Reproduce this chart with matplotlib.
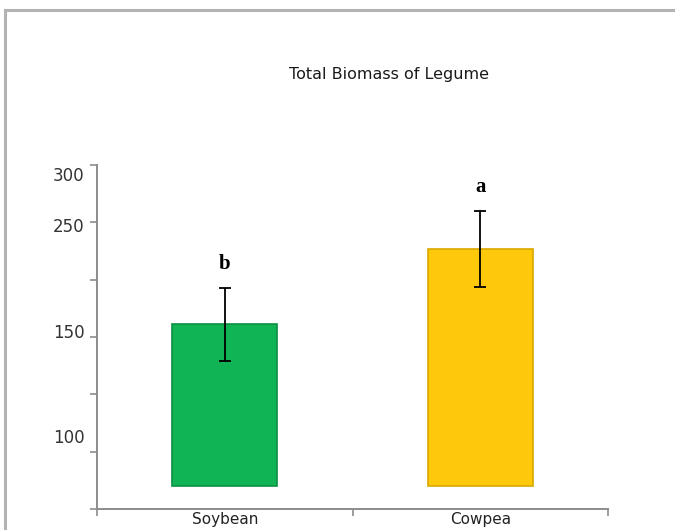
import matplotlib
matplotlib.use("Agg")
import matplotlib.pyplot as plt
from matplotlib.patches import Rectangle

categories = ["Soybean", "Cowpea"]
means = [161, 227]
errors = [32, 33]
letters = ["b", "a"]
bar_base = 20
minor_ticks = [0, 50, 100, 150, 200, 250, 300]
label_positions = [64, 155, 248, 292]
label_texts = ["100", "150", "250", "300"]
title = "Total Biomass of Legume"

colors = ["#10b455", "#fec90a"]
edges = ["#0b8f42", "#d9a800"]

fig = plt.figure(figsize=(6.75, 5.3), dpi=100)
ax = fig.add_axes([97/675, 21/530, (608-97)/675, (509-165)/530])

x = list(range(len(categories)))
heights = [m - bar_base for m in means]
ax.bar(x, heights, bottom=bar_base, width=0.41, color=colors,
       edgecolor=edges, linewidth=1.2, zorder=2)
ax.errorbar(x, means, yerr=errors, fmt="none", ecolor="black",
            elinewidth=1.3, capsize=4.5, capthick=1.3, zorder=3)
for xi, m, e, lt in zip(x, means, errors, letters):
    ax.annotate(lt, (xi, m + e), xytext=(0, 17), textcoords="offset points",
                ha="center", va="center", fontsize=15, fontweight="bold",
                family="Liberation Serif", color="black")

ax.set_xlim(-0.5, 1.5)
ax.set_ylim(0, 300)

# y axis ticks
ax.set_yticks(minor_ticks, minor=True)
ax.set_yticks(label_positions)
ax.set_yticklabels(label_texts)
ax.tick_params(axis="y", which="major", length=0, pad=9, labelsize=12,
               labelcolor="#333333")
ax.tick_params(axis="y", which="minor", length=5, width=1.2, color="#8c8c8c",
               direction="out")

# x axis ticks at category boundaries
ax.set_xticks([-0.5, 0.5, 1.5], minor=True)
ax.set_xticks(x)
ax.set_xticklabels(categories)
ax.tick_params(axis="x", which="minor", length=5, width=1.2, color="#8c8c8c",
               direction="out")
ax.tick_params(axis="x", which="major", length=0, pad=2.5, labelsize=11,
               labelcolor="#222222")

for s in ["top", "right"]:
    ax.spines[s].set_visible(False)
for s in ["left", "bottom"]:
    ax.spines[s].set_color("#8c8c8c")
    ax.spines[s].set_linewidth(1.4)

fig.text(389/675, 1 - 75/530, title, ha="center", va="center",
         fontsize=11.5, color="#1a1a1a")

# figure border (chart area frame)
fig.patches.append(Rectangle((5/675, -0.05), 1.1, 1 - 10/530 + 0.05,
                             transform=fig.transFigure, fill=False,
                             edgecolor="#b3b3b3", linewidth=2.2))

fig.savefig("out.png", dpi=100)
